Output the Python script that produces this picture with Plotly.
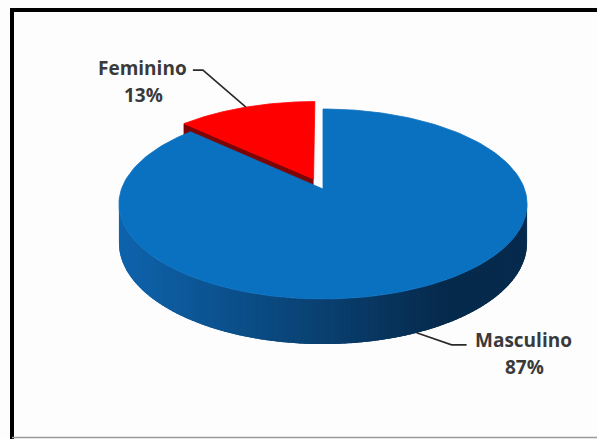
import numpy as np
import plotly.graph_objects as go

# Data
categories = ["Masculino", "Feminino"]
shares = [87, 13]
top_colors = ["#0a70c0", "#ff0000"]
explode = [0.0, 0.12]

# Canvas / projection settings (pixel space)
W, H = 597, 439
CX, CY = 323, 189          # pie centre on screen
RX, RY = 201.5, 92.6       # radii of the tilted disk
DEPTH = 38                 # thickness of the pie
K = 0.158                  # perspective strength


def project(u, v, lift=0.0):
    """Map disk coordinates (u right, v back) to screen pixels."""
    u = np.asarray(u, dtype=float)
    v = np.asarray(v, dtype=float)
    s = 1.0 / (1.0 + K * v)
    return CX + RX * u * s, CY - RY * v * s + DEPTH * s * lift


def mix(c1, c2, t):
    a = np.array([int(c1[i:i + 2], 16) for i in (1, 3, 5)])
    b = np.array([int(c2[i:i + 2], 16) for i in (1, 3, 5)])
    c = (a + (b - a) * min(max(t, 0), 1)).round().astype(int)
    return "#%02x%02x%02x" % tuple(c)


def side_blue(x):
    # light on the left, deep navy to the right
    t = (x - 120) / (440 - 120)
    return mix("#0e63ac", "#062a4c", t)


total = sum(shares)
bounds = np.concatenate([[0], np.cumsum(shares)]) / total * 360.0
slices = []
for i, cat in enumerate(categories):
    a0, a1 = bounds[i], bounds[i + 1]
    mid = np.radians((a0 + a1) / 2)
    du, dv = explode[i] * np.sin(mid), explode[i] * np.cos(mid)
    slices.append(dict(name=cat, a0=a0, a1=a1, mid=mid, du=du, dv=dv))

fig = go.Figure()


def add_poly(xs, ys, color, lw=0.8):
    fig.add_trace(go.Scatter(
        x=list(xs), y=list(ys), mode="lines", fill="toself",
        fillcolor=color, line=dict(color=color, width=lw),
        hoverinfo="skip", showlegend=False))


def top_face(sl, color):
    th = np.radians(np.linspace(sl["a0"], sl["a1"], 200))
    u = np.concatenate([[0], np.sin(th), [0]]) + sl["du"]
    v = np.concatenate([[0], np.cos(th), [0]]) + sl["dv"]
    x, y = project(u, v)
    add_poly(x, y, color)


fem, mas = slices[1], slices[0]

# Feminino: visible radial wall, then its top
th = np.radians(fem["a0"])
u = np.array([0, np.sin(th), np.sin(th), 0]) + fem["du"]
v = np.array([0, np.cos(th), np.cos(th), 0]) + fem["dv"]
lift = np.array([0, 0, 1, 1])
x, y = project(u, v, lift)
add_poly(x, y, "#7e0505")
top_face(fem, top_colors[1])

# Masculino: front curved wall in overlapping strips (shaded left to right), then top
lim = np.degrees(np.arccos(-K))
w0, w1 = max(mas["a0"], lim - 1), min(mas["a1"], 360 - lim + 1)
edges = np.linspace(w0, w1, 121)
step = edges[1] - edges[0]
for a in edges[:-1]:
    t = np.radians(np.linspace(a, min(a + 2.2 * step, w1), 4))
    uu = np.concatenate([np.sin(t), np.sin(t[::-1])]) + mas["du"]
    vv = np.concatenate([np.cos(t), np.cos(t[::-1])]) + mas["dv"]
    ll = np.concatenate([np.zeros(len(t)), np.ones(len(t))])
    xs, ys = project(uu, vv, ll)
    add_poly(xs, ys, side_blue(xs.mean()), lw=0)
top_face(mas, top_colors[0])

# Leader lines and labels
label_color = "#3a3a3a"
ux, vx = np.sin(fem["mid"]) + fem["du"], np.cos(fem["mid"]) + fem["dv"]
fx, fy = project(ux, vx)
ux, vx = np.sin(mas["mid"]) + mas["du"], np.cos(mas["mid"]) + mas["dv"]
mx, my = project(ux, vx, 1.0)

leaders = {
    "Feminino": [(float(fx), float(fy)), (float(fx) - 43, float(fy) - 37), (float(fx) - 53, float(fy) - 37)],
    "Masculino": [(float(mx), float(my)), (float(mx) + 35, float(my) + 12), (float(mx) + 50, float(my) + 12)],
}
label_pos = {"Feminino": (142, 68), "Masculino": (523, 340)}

for cat, share in zip(categories, shares):
    pts = leaders[cat]
    fig.add_trace(go.Scatter(
        x=[p[0] for p in pts], y=[p[1] for p in pts], mode="lines",
        line=dict(color="#2a2a2a", width=1.6), hoverinfo="skip", showlegend=False))
    lx, ly = label_pos[cat]
    fig.add_annotation(x=lx, y=ly, text=cat, showarrow=False,
                       font=dict(family="Open Sans", size=19, color=label_color, weight=700),
                       xanchor="center", yanchor="middle")
    fig.add_annotation(x=lx + 1, y=ly + 27, text=f"{share}%", showarrow=False,
                       font=dict(family="Open Sans", size=19, color=label_color, weight=700),
                       xanchor="center", yanchor="middle")

# Chart frame
fig.add_shape(type="line", x0=10, y0=10, x1=W, y1=10, line=dict(color="#000000", width=4))
fig.add_shape(type="line", x0=12, y0=8, x1=12, y1=H, line=dict(color="#000000", width=4))
fig.add_shape(type="line", x0=12, y0=437.5, x1=W, y1=437.5, line=dict(color="#9a9a9a", width=1.5))

fig.update_layout(
    width=W, height=H,
    margin=dict(l=0, r=0, t=0, b=0),
    paper_bgcolor="#ffffff", plot_bgcolor="#fdfdfd",
    xaxis=dict(range=[0, W], visible=False, fixedrange=True),
    yaxis=dict(range=[H, 0], visible=False, fixedrange=True),
    showlegend=False,
)

fig.write_html("out.html", config={"displayModeBar": False})
